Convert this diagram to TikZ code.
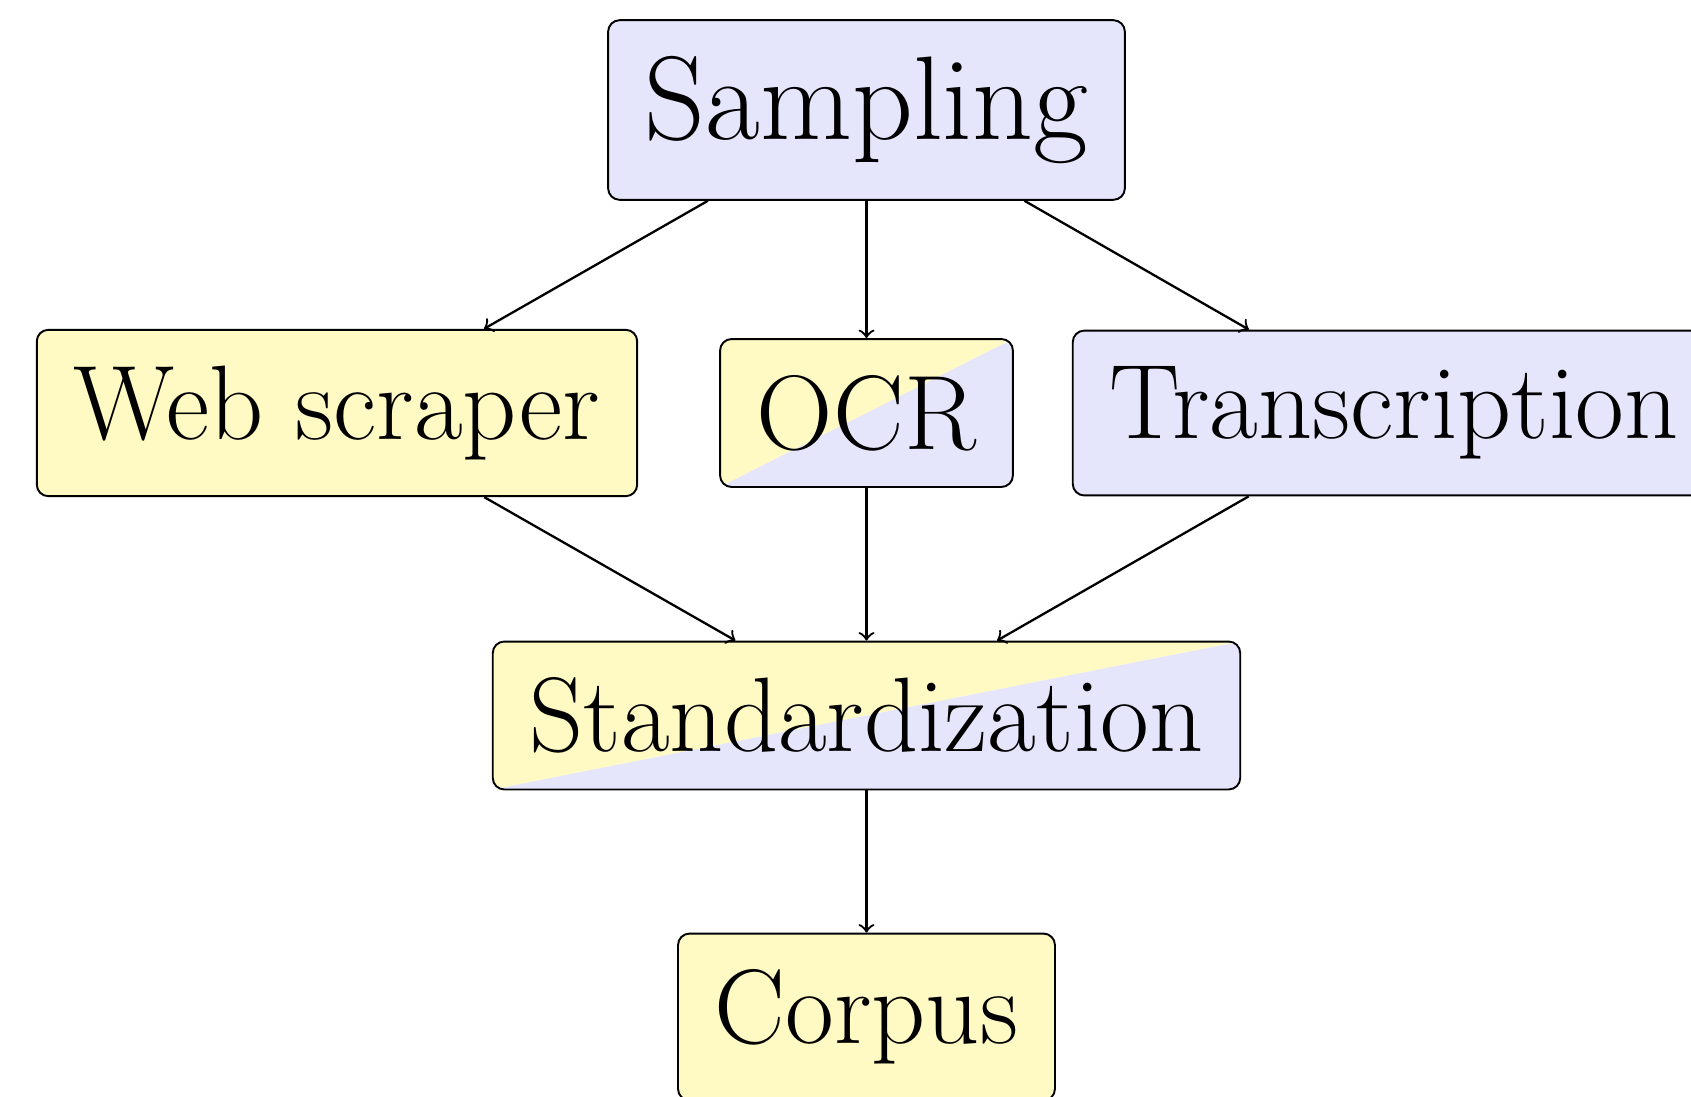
\documentclass[tikz,border=0pt]{standalone}
\definecolor{pblue}{RGB}{229,229,252}
\definecolor{pyellow}{RGB}{255,250,196}
\tikzset{
  box/.style={draw=black, rounded corners=3pt, inner xsep=9.6pt, inner ysep=9.4pt, line width=0.5pt,
    font=\fontsize{27.6}{33}\selectfont},
  bluebox/.style={box, fill=pblue},
  yellowbox/.style={box, fill=pyellow},
  splitbox/.style={box, path picture={
    \fill[pyellow] (path picture bounding box.south west) -- (path picture bounding box.north west)
      -- (path picture bounding box.north east) -- cycle;
    \fill[pblue] (path picture bounding box.south west) -- (path picture bounding box.south east)
      -- (path picture bounding box.north east) -- cycle;}},
  conn/.style={->, line width=0.6pt},
}
\begin{document}
\begin{tikzpicture}[x=0.2605pt,y=-0.2605pt]
\useasboundingbox (0,0) rectangle (1691,1097);
\clip (0,0) rectangle (1691,1097);
\node[bluebox, font=\fontsize{31}{37}\selectfont] (samp) at (866.5,110) {Sampling};
\node[yellowbox] (web) at (337,413) {Web scraper};
\node[splitbox] (ocr) at (866.5,413) {OCR};
\node[bluebox] (trans) at (1394,413) {Transcription};
\node[splitbox] (std) at (866.5,715.5) {Standardization};
\node[yellowbox] (corp) at (866.5,1017) {Corpus};
\draw[conn] (samp) -- (web);
\draw[conn] (samp) -- (ocr);
\draw[conn] (samp) -- (trans);
\draw[conn] (web) -- (std);
\draw[conn] (ocr) -- (std);
\draw[conn] (trans) -- (std);
\draw[conn] (std) -- (corp);
\end{tikzpicture}
\end{document}
